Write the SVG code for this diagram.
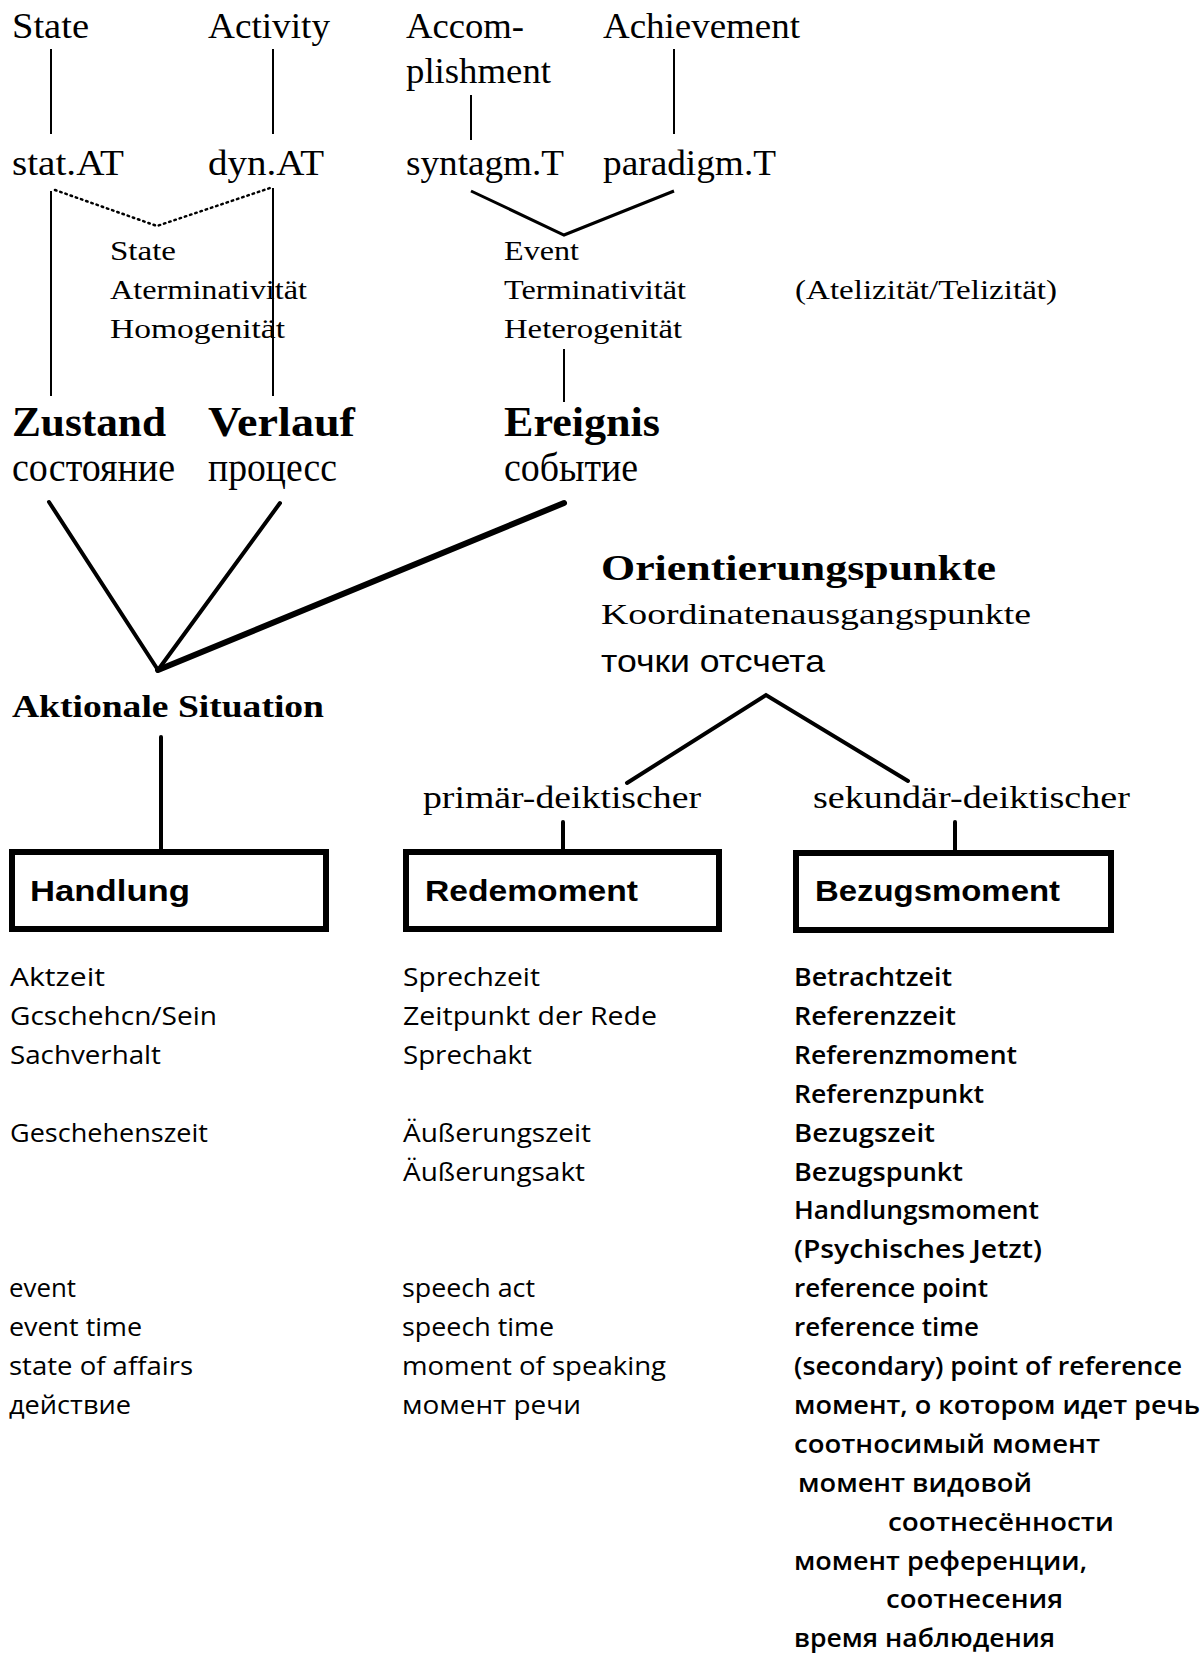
<svg xmlns="http://www.w3.org/2000/svg" width="1204" height="1659" viewBox="0 0 1204 1659">
<style>
text{fill:#000}
.t1{font-family:"Liberation Serif",serif;font-size:35px}
.t2{font-family:"Liberation Serif",serif;font-size:28px}
.tb{font-family:"Liberation Serif",serif;font-size:43px;font-weight:bold}
.tr{font-family:"Liberation Serif",serif;font-size:39px}
.to{font-family:"Liberation Serif",serif;font-size:36px;font-weight:bold}
.tk{font-family:"Liberation Serif",serif;font-size:30px}
.tc{font-family:"Liberation Sans",sans-serif;font-size:32px}
.ta{font-family:"Liberation Serif",serif;font-size:32px;font-weight:bold}
.td{font-family:"Liberation Serif",serif;font-size:31px}
.bx{font-family:"Liberation Sans",sans-serif;font-size:29px;font-weight:bold}
.b{font-family:"Open Sans","Liberation Sans",sans-serif;font-size:25px}
.r{font-family:"Open Sans","Liberation Sans",sans-serif;font-size:25px;font-weight:600}
.box{fill:none;stroke:#000;stroke-width:6}
.thin{stroke:#000;stroke-width:2;fill:none}
.mid{stroke:#000;stroke-width:3;fill:none;stroke-linejoin:miter}
.thick{stroke:#000;stroke-width:4;fill:none;stroke-linecap:round;stroke-linejoin:miter}
.heavy{stroke:#000;stroke-width:6;fill:none;stroke-linecap:round}
.dot{stroke:#000;stroke-width:2.5;fill:none;stroke-dasharray:1.5 4;stroke-linecap:round}
</style>

<g id="connectors">
  <line class="thin" x1="51" y1="49" x2="51" y2="134"/>
  <line class="thin" x1="273" y1="49" x2="273" y2="134"/>
  <line class="thin" x1="471" y1="95" x2="471" y2="140"/>
  <line class="thin" x1="674" y1="49" x2="674" y2="134"/>
  <line class="thin" x1="51" y1="191" x2="51" y2="396"/>
  <line class="thin" x1="273" y1="188" x2="273" y2="396"/>
  <polyline class="dot" points="55,190 157,226 270,188"/>
  <polyline class="mid" points="471,191 564,235 674,191"/>
  <line class="thin" x1="564" y1="349" x2="564" y2="402"/>
  <line class="thick" x1="49" y1="502" x2="158" y2="670"/>
  <line class="thick" x1="280" y1="503" x2="158" y2="670"/>
  <line class="heavy" x1="564" y1="503" x2="158" y2="670"/>
  <line class="thick" x1="161" y1="737" x2="161" y2="849"/>
  <polyline class="thick" points="627,783 766,695 908,781"/>
  <line class="thick" x1="563" y1="822" x2="563" y2="851"/>
  <line class="thick" x1="955" y1="822" x2="955" y2="852"/>
</g>

<g id="state"><text class="t1" x="12" y="38" textLength="77" lengthAdjust="spacingAndGlyphs">State</text></g>
<g id="activity"><text class="t1" x="208" y="38" textLength="122" lengthAdjust="spacingAndGlyphs">Activity</text></g>
<g id="accomplishment">
  <text class="t1" x="406" y="38" textLength="118" lengthAdjust="spacingAndGlyphs">Accom-</text>
  <text class="t1" x="406" y="83" textLength="145" lengthAdjust="spacingAndGlyphs">plishment</text>
</g>
<g id="achievement"><text class="t1" x="603" y="38" textLength="197" lengthAdjust="spacingAndGlyphs">Achievement</text></g>

<g id="statAT"><text class="t1" x="12" y="175" textLength="112" lengthAdjust="spacingAndGlyphs">stat.AT</text></g>
<g id="dynAT"><text class="t1" x="208" y="175" textLength="116" lengthAdjust="spacingAndGlyphs">dyn.AT</text></g>
<g id="syntagmT"><text class="t1" x="406" y="175" textLength="158" lengthAdjust="spacingAndGlyphs">syntagm.T</text></g>
<g id="paradigmT"><text class="t1" x="603" y="175" textLength="173" lengthAdjust="spacingAndGlyphs">paradigm.T</text></g>

<g id="stateBlock">
  <text class="t2" x="110" y="260" textLength="66" lengthAdjust="spacingAndGlyphs">State</text>
  <text class="t2" x="110" y="299" textLength="197" lengthAdjust="spacingAndGlyphs">Aterminativität</text>
  <text class="t2" x="110" y="338" textLength="175" lengthAdjust="spacingAndGlyphs">Homogenität</text>
</g>
<g id="eventBlock">
  <text class="t2" x="504" y="260" textLength="75" lengthAdjust="spacingAndGlyphs">Event</text>
  <text class="t2" x="504" y="299" textLength="182" lengthAdjust="spacingAndGlyphs">Terminativität</text>
  <text class="t2" x="504" y="338" textLength="178" lengthAdjust="spacingAndGlyphs">Heterogenität</text>
</g>
<g id="atelizitaet"><text class="t2" x="795" y="299" textLength="262" lengthAdjust="spacingAndGlyphs">(Atelizität/Telizität)</text></g>

<g id="zustand">
  <text class="tb" x="12" y="436" textLength="154" lengthAdjust="spacingAndGlyphs">Zustand</text>
  <text class="tr" x="12" y="481" textLength="163" lengthAdjust="spacingAndGlyphs">состояние</text>
</g>
<g id="verlauf">
  <text class="tb" x="208" y="436" textLength="147" lengthAdjust="spacingAndGlyphs">Verlauf</text>
  <text class="tr" x="208" y="481" textLength="129" lengthAdjust="spacingAndGlyphs">процесс</text>
</g>
<g id="ereignis">
  <text class="tb" x="504" y="436" textLength="156" lengthAdjust="spacingAndGlyphs">Ereignis</text>
  <text class="tr" x="504" y="481" textLength="134" lengthAdjust="spacingAndGlyphs">событие</text>
</g>

<g id="orientierungspunkte">
  <text class="to" x="601" y="580" textLength="395" lengthAdjust="spacingAndGlyphs">Orientierungspunkte</text>
  <text class="tk" x="601" y="624" textLength="430" lengthAdjust="spacingAndGlyphs">Koordinatenausgangspunkte</text>
  <text class="tc" x="601" y="672" textLength="224" lengthAdjust="spacingAndGlyphs">точки отсчета</text>
</g>

<g id="aktionale"><text class="ta" x="12" y="717" textLength="312" lengthAdjust="spacingAndGlyphs">Aktionale Situation</text></g>

<g id="primaer"><text class="td" x="423" y="808" textLength="278" lengthAdjust="spacingAndGlyphs">primär-deiktischer</text></g>
<g id="sekundaer"><text class="td" x="813" y="808" textLength="317" lengthAdjust="spacingAndGlyphs">sekundär-deiktischer</text></g>

<g id="handlung">
  <rect class="box" x="12" y="852" width="314" height="77"/>
  <text class="bx" x="30" y="901" textLength="160" lengthAdjust="spacingAndGlyphs">Handlung</text>
</g>
<g id="redemoment">
  <rect class="box" x="406" y="852" width="313" height="77"/>
  <text class="bx" x="425" y="901" textLength="213" lengthAdjust="spacingAndGlyphs">Redemoment</text>
</g>
<g id="bezugsmoment">
  <rect class="box" x="796" y="853" width="315" height="77"/>
  <text class="bx" x="815" y="901" textLength="245" lengthAdjust="spacingAndGlyphs">Bezugsmoment</text>
</g>

<g id="handlungTerms">
  <text class="b" x="10" y="986" textLength="95" lengthAdjust="spacingAndGlyphs">Aktzeit</text>
  <text class="b" x="10" y="1025" textLength="207" lengthAdjust="spacingAndGlyphs">Gcschehcn/Sein</text>
  <text class="b" x="10" y="1064" textLength="151" lengthAdjust="spacingAndGlyphs">Sachverhalt</text>
  <text class="b" x="10" y="1142" textLength="198" lengthAdjust="spacingAndGlyphs">Geschehenszeit</text>
  <text class="b" x="9" y="1297" textLength="67" lengthAdjust="spacingAndGlyphs">event</text>
  <text class="b" x="9" y="1336" textLength="133" lengthAdjust="spacingAndGlyphs">event time</text>
  <text class="b" x="9" y="1375" textLength="184" lengthAdjust="spacingAndGlyphs">state of affairs</text>
  <text class="b" x="9" y="1414" textLength="122" lengthAdjust="spacingAndGlyphs">действие</text>
</g>

<g id="redemomentTerms">
  <text class="b" x="403" y="986" textLength="137" lengthAdjust="spacingAndGlyphs">Sprechzeit</text>
  <text class="b" x="403" y="1025" textLength="254" lengthAdjust="spacingAndGlyphs">Zeitpunkt der Rede</text>
  <text class="b" x="403" y="1064" textLength="129" lengthAdjust="spacingAndGlyphs">Sprechakt</text>
  <text class="b" x="403" y="1142" textLength="188" lengthAdjust="spacingAndGlyphs">Äußerungszeit</text>
  <text class="b" x="403" y="1181" textLength="182" lengthAdjust="spacingAndGlyphs">Äußerungsakt</text>
  <text class="b" x="402" y="1297" textLength="133" lengthAdjust="spacingAndGlyphs">speech act</text>
  <text class="b" x="402" y="1336" textLength="152" lengthAdjust="spacingAndGlyphs">speech time</text>
  <text class="b" x="402" y="1375" textLength="264" lengthAdjust="spacingAndGlyphs">moment of speaking</text>
  <text class="b" x="402" y="1414" textLength="179" lengthAdjust="spacingAndGlyphs">момент речи</text>
</g>

<g id="bezugsmomentTerms">
  <text class="r" x="794" y="986" textLength="158" lengthAdjust="spacingAndGlyphs">Betrachtzeit</text>
  <text class="r" x="794" y="1025" textLength="162" lengthAdjust="spacingAndGlyphs">Referenzzeit</text>
  <text class="r" x="794" y="1064" textLength="223" lengthAdjust="spacingAndGlyphs">Referenzmoment</text>
  <text class="r" x="794" y="1103" textLength="190" lengthAdjust="spacingAndGlyphs">Referenzpunkt</text>
  <text class="r" x="794" y="1142" textLength="141" lengthAdjust="spacingAndGlyphs">Bezugszeit</text>
  <text class="r" x="794" y="1181" textLength="169" lengthAdjust="spacingAndGlyphs">Bezugspunkt</text>
  <text class="r" x="794" y="1219" textLength="245" lengthAdjust="spacingAndGlyphs">Handlungsmoment</text>
  <text class="r" x="794" y="1258" textLength="248" lengthAdjust="spacingAndGlyphs">(Psychisches Jetzt)</text>
  <text class="r" x="794" y="1297" textLength="194" lengthAdjust="spacingAndGlyphs">reference point</text>
  <text class="r" x="794" y="1336" textLength="185" lengthAdjust="spacingAndGlyphs">reference time</text>
  <text class="r" x="794" y="1375" textLength="388" lengthAdjust="spacingAndGlyphs">(secondary) point of reference</text>
  <text class="r" x="794" y="1414" textLength="406" lengthAdjust="spacingAndGlyphs">момент, о котором идет речь</text>
  <text class="r" x="794" y="1453" textLength="306" lengthAdjust="spacingAndGlyphs">соотносимый момент</text>
  <text class="r" x="798" y="1492" textLength="234" lengthAdjust="spacingAndGlyphs">момент видовой</text>
  <text class="r" x="888" y="1531" textLength="226" lengthAdjust="spacingAndGlyphs">соотнесённости</text>
  <text class="r" x="794" y="1570" textLength="293" lengthAdjust="spacingAndGlyphs">момент референции,</text>
  <text class="r" x="886" y="1608" textLength="177" lengthAdjust="spacingAndGlyphs">соотнесения</text>
  <text class="r" x="794" y="1647" textLength="261" lengthAdjust="spacingAndGlyphs">время наблюдения</text>
</g>
</svg>
